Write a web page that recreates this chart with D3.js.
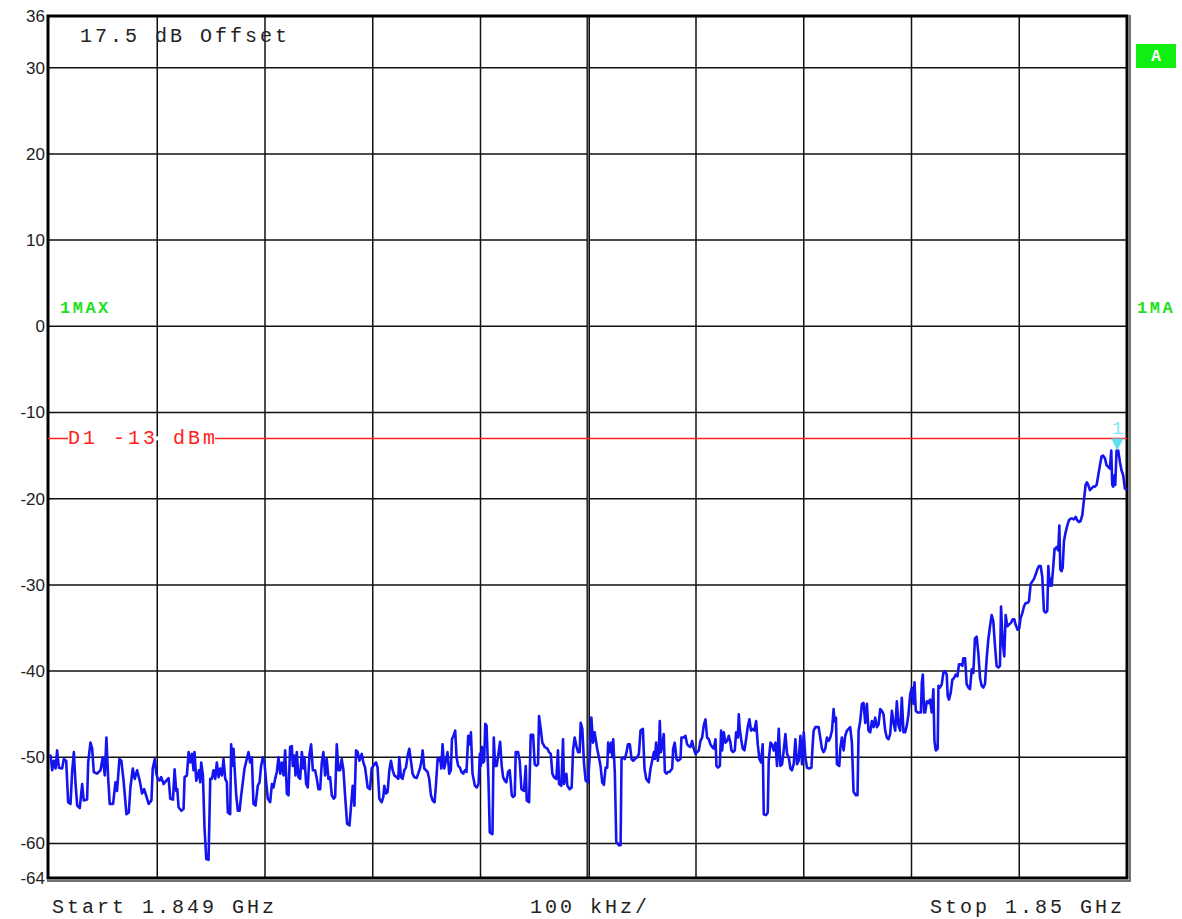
<!DOCTYPE html>
<html>
<head>
<meta charset="utf-8">
<script src="https://d3js.org/d3.v7.min.js"></script>
<style>
  body { margin: 0; background: #fff; }
  svg { display: block; }
</style>
</head>
<body>
<div id="chart"></div>
<script>
const WIDTH = 1182;
const HEIGHT = 919;
const MONO = "'Liberation Mono', 'Courier New', monospace";
const SANS = "'Liberation Sans', Arial, sans-serif";

// sweep points: offset from start (1.849 GHz) in kHz, level in dBm
const freqKHz = [
  0, 1, 2.5, 4, 5.6, 7.1, 8.7, 11.7, 13.3, 15.5,
  17.3, 19.5, 21, 22.6, 24.1, 25.7, 28.1, 30.3, 31.8, 34.9,
  35.9, 38, 39.6, 41.1, 44.2, 47.3, 49.4, 51.3, 52.8, 54.4,
  55.9, 59, 61.2, 62.7, 64.9, 66.7, 68.9, 71.4, 73.6, 75.1,
  77.3, 79.1, 81.3, 83.7, 85.9, 87.8, 89.6, 92.1, 94.6, 95.8,
  97.7,
  99.1, 100.6, 102.2, 103.7, 105.9, 108.4, 110.5, 112.1, 114.6, 116.1,
  117.6, 118.6, 119.8, 122.3, 124.4, 125.4, 127.5, 129.1, 130.6, 132.2,
  133.7, 134.6, 136.2, 137.7, 138.7, 139.9, 140.8, 142.4, 143.9, 145.5,
  147.6, 149.2, 150.7, 152.2, 153.8, 155.3, 156.9, 158.4, 160, 161.5,
  163.1, 164.6, 165.5, 167.7, 168.6, 169.6, 170.8, 172, 173.3, 174.8,
  176.4, 177.9, 179.4, 181, 183.1, 184.7, 186.2, 187.8, 189.3, 191.2,
  193.3, 194.9, 196.4, 198, 199.5, 201.1,
  202.6, 204.8, 206.4, 207.9, 209.4, 211, 212.5, 214.1, 215.6, 217.2,
  218.7, 220.3, 221.8, 223.3, 224.9, 225.8, 227.4, 228.3, 229.5, 231.1,
  232.6, 234.2, 235.7, 236.6, 238.2, 239.7, 241.3, 242.8, 244.4, 246.5,
  248.1, 249.6, 251.2, 252.7, 254.2, 255.8, 257.3, 258.9, 260.4, 262,
  263.8, 265.1, 266.6, 268.2, 269.7, 271.2, 272.8, 274.3, 276.2, 278.4,
  279.9, 281.4, 283, 284.5, 286.1, 287.6, 289.8, 291.3, 292.9, 295.3,
  297.5, 299, 301.5, 303.1,
  304.5, 306.1, 308.3, 309.8, 310.7, 312.3, 313.8, 315.4, 316.9, 318.5,
  320, 322.2, 323.7, 324.6, 326.2, 327.7, 329.3, 330.8, 332.4, 333.9,
  335.4, 337, 338.5, 340.7, 342.2, 343.8, 345.3, 346.3, 347.8, 349.4,
  350.9, 352.4, 354, 355.5, 357.4, 358.6, 360.2, 361.7, 362.6, 363.6,
  364.8, 366.3, 367.9, 369.4, 371, 372.5, 373.5, 375, 376.5, 377.8,
  379.3, 380.9, 382.4, 384, 385.5, 387, 388.6, 390.1, 391.1, 392.6,
  394.8, 396.6, 398.2, 399.4, 400.3, 401.3, 402.5, 403.4, 404.4, 405.6,
  407.4, 408.6, 411.1, 412.3, 413.6, 415.1, 416.6, 418.2, 419.7, 421,
  422.5, 424, 425.6, 427.1, 428.1, 429, 430.2, 431.8, 432.7, 434.9,
  436.4, 438, 440.4, 442, 442.9, 445.1, 446.6, 448.8, 450.3, 451.9,
  453.4, 454.3, 455.9, 457.4, 459.6, 462.1, 463.6, 465.2, 466.7, 468.2,
  470.4, 471.9, 472.9, 475, 476.6, 477.5, 479.7, 480.6, 482.8, 484.6,
  485.9, 487.4, 489, 490.5, 492, 493, 494.5, 496.1, 497.6, 499.8,
  501.3, 502.9, 504.4, 505.9,
  508.3, 509.9, 511.4, 513, 514.5, 516.1, 517.6, 518.5, 520.1, 521.3,
  522.3, 523.2, 524.7, 526, 528.4, 530, 530.9, 532.5, 534, 535.5,
  536.8, 538.6, 540.2, 541.7, 543.3, 545.4, 547, 548.5, 550.7, 552.2,
  553.8, 556.2, 557.8, 559.3, 560.9, 561.8, 563, 564.6, 565.5, 566.4,
  567.4, 568.6, 570.1, 571.1, 572.6, 573.9, 575.4, 577.9, 578.8, 580.3,
  581.9, 583.4, 585.6, 586.5, 588.7, 590.2, 591.8, 593.3, 594.9, 596.4,
  598, 599.5, 601.1, 602.6, 604.1, 605.7, 607.2, 608.8,
  610.3, 611.9, 613.4, 615, 616.5, 618.1, 619, 620.5, 622.1, 623.3,
  624.3, 625.8, 627.3, 628.9, 630.4, 632, 632.9, 634.4, 636, 637.2,
  638.8, 639.7, 640.6, 641.9, 643.4, 645, 646.5, 648, 649.6, 651.1,
  652.7, 654.2, 655.8, 657.3, 658.9, 660.4, 661.9, 662.9, 665, 666.6,
  667.5, 669.1, 670.6, 672.1, 673.7, 675.2, 676.8, 678.3, 679.9, 681.4,
  683, 684.5, 686.1, 687.6, 689.1, 690.7, 692.2, 693.8, 695.3, 696.9,
  698.4, 700, 701.5, 703, 705.2, 707.1, 708.3, 709.2, 710.8, 712.3,
  713.8, 715.3, 716.9, 718.4, 720, 721.5, 723.1, 724.6, 726.2, 727.7,
  728.6, 729.9, 730.8, 733, 733.9, 735.4, 737, 738.5, 740.1, 741.6,
  743.1, 744.7, 746.2, 748.4, 749.9, 750.9, 752.4, 754, 755.5, 757.1,
  758.6, 760.1, 761.7, 763.2, 764.8, 766.3, 767.9, 769.4, 771, 772.5,
  774, 775.6, 777.1, 778.7, 780.2, 781.8, 783.3, 784.9, 786.4, 787.9,
  789.5, 791, 792.6, 794.1, 795.7, 797.2, 798.8, 800.3, 801.9, 802.8,
  804, 805.6, 807.1, 808.7, 809.6, 810.5, 811.7, 812.7, 814.2, 815.8,
  817.2, 818.8, 820.3, 821.3, 822.5, 824.3, 825, 826.5, 828.1, 829.6,
  831.1, 832.7, 833.6, 834.8, 836.4, 837.9, 839.5, 841, 842.6, 844.1,
  845.7, 847.2, 848.1, 849.7, 851.2, 852.8, 854.3, 855.9, 857.4, 858.9,
  860.5, 862, 863.6, 865.1, 866.7, 868.2, 869.8, 871.3, 872.9, 874.4,
  875.9, 877.5, 879, 880.6, 882.1, 883.1, 884.6, 886.1, 887.4, 888.9,
  890.5, 892.3, 893.9, 895.4, 896.6, 898.5, 900, 901.3, 902.8, 904.4,
  905.9, 907.5, 909,
  910.6, 912.1, 913.7, 915.2, 916.8, 918.3, 919.9, 921.4, 922.9, 924.5,
  926, 927, 928.2, 929.1, 930.1, 931.6, 932.8, 933.8, 934.7, 936.2,
  937.2, 938.1, 939.3, 940.3, 941.5, 943, 944.6, 946.1, 947.7, 949.2,
  950.8, 952.3, 953.8, 955.4, 956.9, 958.5, 960, 961.6, 962.8, 964,
  965.6, 967.1, 968.7, 970.2, 971.8, 973.3, 974.9, 976.4, 977.9, 979.5,
  981, 982.6, 984.1, 985.4, 986.3, 987.2, 988.1, 989.1, 990.3, 991.8,
  993.4, 994.9, 996.5, 998, 1000
];

const levelDb = [
  -49.8, -49.8, -51.5, -50.4, -51.3, -49.2, -51.2, -51.3, -50.2, -50.4,
  -55.2, -55.4, -51.7, -49.4, -52.9, -55.6, -55.9, -53.1, -55, -54.9,
  -50.6, -48.3, -49, -51.7, -51.9, -51.5, -50, -52.1, -47.7, -52.3,
  -55.4, -55.4, -52.9, -53.9, -50.2, -50.4, -52.9, -56.6, -56.4, -53.5,
  -51.3, -52.5, -51.5, -52.7, -54.2, -53.7, -54.4, -55.4, -55, -51.3,
  -50.2,
  -51.9, -52.5, -52.7, -52.3, -53.1, -52.7, -52.4, -54.8, -54.9, -51.4,
  -53.9, -53.7, -55.8, -56.2, -56.0, -52.3, -52.1, -49.4, -50.6, -49.6,
  -51.5, -49.4, -52.7, -52.1, -51.5, -52.9, -50.6, -52.1, -58.3, -61.8,
  -61.9, -52.5, -52.5, -51.5, -52.5, -50.6, -52.3, -51.3, -52.1, -50.2,
  -52.5, -52.9, -56.4, -56.6, -48.5, -51.0, -49.0, -51.7, -54.4, -56.2,
  -56.2, -54.4, -52.9, -51.3, -50.2, -49.4, -50.6, -50.0, -55.4, -55.6,
  -53.3, -52.9, -51.0, -50.0, -50.6, -52.9,
  -54.8, -55.2, -53.1, -53.5, -52.5, -51.7, -50, -51.9, -50.6, -52.1,
  -49.2, -54.2, -54.4, -48.8, -48.7, -51, -49.8, -52.1, -49.4, -52.3,
  -52.5, -49.4, -51.3, -50, -53.1, -53.5, -49.6, -48.5, -51.5, -51.5,
  -52.5, -53.7, -53.7, -50.6, -49.4, -52.1, -50.2, -52.5, -52.3, -54.4,
  -54.8, -54.6, -48.5, -51.5, -51.5, -50.2, -51.5, -54.4, -57.7, -57.9,
  -55.6, -53.3, -55.6, -49.2, -49.4, -50.4, -49.6, -50.6, -51.2, -53.5,
  -53.7, -51.3, -50.8, -50.6,
  -51.2, -54.8, -55.2, -54.6, -53.3, -54.2, -54.0, -51.5, -50.4, -51.5,
  -52.1, -52.3, -52.5, -50, -52.3, -52.5, -51.5, -51.2, -49.8, -49,
  -50.4, -51.9, -52.3, -52.4, -51.9, -51.3, -50.4, -49.2, -51.3, -51.5,
  -51.7, -52.5, -54.4, -55, -55.2, -53.3, -50.2, -50.4, -50, -51.3,
  -48.5, -51.3, -50.4, -49.4, -51.9, -51.5, -47.9, -47.5, -46.9, -50,
  -51, -51.2, -51.7, -51.9, -51.5, -51.7, -47.5, -48.5, -47.1, -51.9,
  -53.3, -53.5, -53.1, -49.6, -51, -48.8, -50.6, -50.4, -46.1, -46.3,
  -52.7, -58.7, -58.9, -47.7, -51, -51, -49.6, -48.2, -51, -52.3,
  -52.7, -52.9, -51.7, -51.5, -52.9, -54.4, -54.6, -54.4, -49.4, -49.4,
  -50.4, -53.7, -53.9, -51, -55, -55.2, -47.4, -47.4, -50.8, -51,
  -50.8, -45.2, -46.7, -48.3, -48.8, -49, -49.4, -49.6, -51.9, -52.3,
  -52.5, -49.2, -53.1, -53.3, -47.9, -53.1, -51.9, -53.3, -53.7, -53.5,
  -49.2, -47.7, -48.7, -49.4, -49.4, -46, -46.7, -50.8, -52.7, -52.9,
  -50, -45.4, -48.3, -47.1,
  -49, -50, -51, -52.9, -53.2, -51.2, -51.2, -48.3, -49.4, -48.3,
  -50, -47.9, -51.9, -59.8, -60.2, -60.2, -50.2, -50, -50.2, -49.4,
  -48.5, -48.5, -50.2, -50.4, -50.2, -50, -49.6, -46.9, -46.7, -51.3,
  -52.5, -52.9, -51.3, -50.4, -49.4, -50.2, -48.3, -50.4, -49.4, -45.8,
  -49.4, -48.7, -47.3, -51.7, -51.9, -51.7, -51.7, -51.3, -49, -48.3,
  -50.2, -50.4, -50.2, -47.7, -47.7, -47.5, -48.5, -48.7, -48.8, -48.1,
  -49, -49.6, -49.4, -49.2, -48.1, -47.7, -46.3, -45.6,
  -47.7, -47.9, -48.5, -48.8, -49, -47.9, -51, -51.2, -51, -46.9,
  -49.2, -47.1, -48.3, -48.1, -47.5, -48.3, -49.2, -49.4, -49.2, -47.1,
  -47.7, -45, -46.7, -47.9, -49, -49.2, -47.9, -46.5, -45.6, -46.9,
  -46.7, -46.9, -45.8, -48.5, -50.2, -50.6, -48.5, -56.6, -56.7, -56.4,
  -50.4, -48.3, -48.5, -49.2, -48.3, -51, -46.7, -51, -50.8, -49.2,
  -47.3, -49.6, -50, -51.3, -51.5, -50.8, -47.9, -50.8, -50.4, -47.5,
  -50.8, -47.1, -50, -51.2, -51.3, -51.2, -48.5, -46.9, -46.5, -46.5,
  -46.5, -47.7, -49, -49.4, -49, -47.7, -48.1, -47.7, -46.9, -44.4,
  -45.8, -45.4, -50.8, -51, -49, -47.7, -49.2, -47.5, -46.9, -46.7,
  -46.5, -48.3, -54, -54.4, -54.4, -46.9, -45.8, -43.8, -43.7, -46,
  -43.8, -46.9, -47.1, -45.8, -46.5, -45.4, -46.5, -46.2, -44.4, -44.6,
  -45, -46.9, -47.7, -47.9, -47.3, -44.6, -46, -46.9, -43.5, -46.3,
  -46.9, -43.1, -47.1, -47.1, -46.3, -45, -42.7, -41.9, -43.8, -41.3,
  -44.6, -44.8, -44.8, -44.8, -41.3, -40.4, -44.8, -44.8, -43.5, -43.7,
  -43.3, -44.8, -42.1, -48.1, -49.2, -49, -41.7, -41.9, -41.5, -40.2,
  -40, -40.4, -42.9, -43.3, -42.5, -41, -40.8, -40.4, -40.6, -39.2,
  -39.2, -39.4, -38.5, -38.5, -41.5, -41.9, -42.1, -39.8, -40.2, -36.2,
  -36, -37.9, -40.8, -41.7, -41.9, -41.5, -38.5, -36.3, -34.8, -33.5,
  -34.2, -37.1, -39.4, -39.6, -39.4, -32.5, -36.7, -38.3, -33.5, -34.8,
  -34.6, -34.4, -34, -34, -34.6, -35.2, -35, -33.8, -33.3, -32.5,
  -32.1, -32.1, -31.9,
  -29.9, -29.6, -29.3, -28.8, -28.2, -27.8, -27.8, -29.1, -33, -33.2,
  -33, -27.8, -30.1, -29.3, -30.1, -27.8, -25.8, -25.8, -25.6, -26,
  -23.1, -28.2, -28.4, -28, -24.9, -23.9, -23.1, -22.5, -22.3, -22.3,
  -22.4, -22.1, -22.5, -22.7, -22.6, -21.9, -20.2, -18.4, -18.1, -18.4,
  -19, -18.8, -18.6, -18.6, -18.4, -17.3, -16.1, -15.1, -15, -15.3,
  -16.1, -16.3, -16.5, -14.4, -18.4, -18.6, -17.3, -18.4, -14.4, -14.4,
  -15.7, -16.7, -17.3, -18.8, -19
];

const yTicks = [36, 30, 20, 10, 0, -10, -20, -30, -40, -50, -60, -64];
const gridLevels = [30, 20, 10, 0, -10, -20, -30, -40, -50, -60];
const gridFreqs = [100, 200, 300, 400, 500, 600, 700, 800, 900];
const limitDb = -13;
const limitLabel = "D1 -13 dBm";
const markerKHz = 991;
const markerDb = -14.4;

// plot frame in px
const X0 = 49.5, X1 = 1127, Y0 = 16, Y1 = 878;

var svg = d3.select("#chart").append("svg")
    .attr("width", WIDTH)
    .attr("height", HEIGHT);

var x = d3.scaleLinear().domain([0, 1000]).range([X0, X1]);
var y = d3.scaleLinear().domain([-64, 36]).range([Y1, Y0]);

// grid
svg.append("g").selectAll("line")
    .data(gridLevels)
    .enter().append("line")
    .attr("x1", 48).attr("x2", X1)
    .attr("y1", d => y(d)).attr("y2", d => y(d))
    .attr("stroke", "#111")
    .attr("stroke-width", 1.5);

svg.append("g").selectAll("line")
    .data(gridFreqs)
    .enter().append("line")
    .attr("x1", d => x(d)).attr("x2", d => x(d))
    .attr("y1", Y0).attr("y2", Y1)
    .attr("stroke", "#111")
    .attr("stroke-width", d => d === 500 ? 3.5 : 1.5);

svg.append("line")
    .attr("x1", x(500)).attr("x2", x(500))
    .attr("y1", Y0).attr("y2", Y1)
    .attr("stroke", "#888")
    .attr("stroke-width", 1);

// frame
svg.append("rect")
    .attr("x", 48).attr("y", Y0)
    .attr("width", X1 - 48).attr("height", Y1 - Y0)
    .attr("fill", "none")
    .attr("stroke", "#000")
    .attr("stroke-width", 3);

svg.append("path")
    .attr("d", `M47,${Y1 + 3}H${X1 + 3}V${Y0 - 1}`)
    .attr("fill", "none")
    .attr("stroke", "#444")
    .attr("stroke-width", 1.5);

// y axis labels
var yAxis = svg.append("g")
    .attr("transform", "translate(48,0)")
    .call(d3.axisLeft(y).tickValues(yTicks).tickSize(0).tickPadding(3).tickFormat(d => String(d)));
yAxis.select(".domain").remove();
yAxis.selectAll("text")
    .attr("font-family", SANS)
    .attr("font-size", "17px")
    .attr("fill", "#222");

// limit line with its label cut into it
svg.append("line")
    .attr("x1", 48).attr("x2", X1)
    .attr("y1", y(limitDb)).attr("y2", y(limitDb))
    .attr("stroke", "#ff2020")
    .attr("stroke-width", 1.5);

var limitGap = svg.append("rect")
    .attr("fill", "#fff");

var limitText = svg.append("text")
    .attr("x", 68)
    .attr("y", y(limitDb) + 6)
    .attr("font-family", MONO)
    .attr("font-size", "20px")
    .attr("letter-spacing", "3px")
    .attr("fill", "#ff2020")
    .attr("xml:space", "preserve")
    .text(limitLabel);
var bb = limitText.node().getBBox();
limitGap
    .attr("x", bb.x).attr("y", y(limitDb) - 2)
    .attr("width", bb.width - 3).attr("height", 4);

// trace
var pts = d3.range(Math.min(freqKHz.length, levelDb.length)).map(i => [freqKHz[i], levelDb[i]]);
var line = d3.line()
    .x(d => x(d[0]))
    .y(d => y(d[1]));

svg.append("defs").append("clipPath").attr("id", "plot")
    .append("rect").attr("x", 48).attr("y", Y0).attr("width", X1 - 48).attr("height", Y1 - Y0);

svg.append("path")
    .datum(pts)
    .attr("clip-path", "url(#plot)")
    .attr("fill", "none")
    .attr("stroke", "#1414f0")
    .attr("stroke-width", 2.6)
    .attr("stroke-linejoin", "round")
    .attr("d", line);

// marker 1
var mx = x(markerKHz), my = y(markerDb);
svg.append("path")
    .attr("d", `M${mx - 6},${my - 12}L${mx + 6},${my - 12}L${mx},${my}Z`)
    .attr("fill", "#5fe0ea");
svg.append("text")
    .attr("x", mx)
    .attr("y", my - 16)
    .attr("text-anchor", "middle")
    .attr("font-family", MONO)
    .attr("font-size", "18px")
    .attr("fill", "#7fe8f0")
    .text("1");

// annotations
const monoText = (txt, tx, ty) => {
    return svg.append("text")
        .attr("x", tx).attr("y", ty)
        .attr("font-family", MONO)
        .attr("font-size", "20px")
        .attr("letter-spacing", "3px")
        .attr("fill", "#222")
        .attr("xml:space", "preserve")
        .text(txt);
};

monoText("17.5 dB Offset", 80, 42);
monoText("Start 1.849 GHz", 52, 913);
monoText("100 kHz/", 530, 913);
monoText("Stop 1.85 GHz", 930, 913);

const greenLabel = (txt, tx) => {
    svg.append("text")
        .attr("x", tx).attr("y", 313)
        .attr("font-family", MONO)
        .attr("font-size", "17px")
        .attr("letter-spacing", "2.5px")
        .attr("font-weight", "bold")
        .attr("fill", "#22e022")
        .text(txt);
};
greenLabel("1MAX", 60);
greenLabel("1MA", 1137);

svg.append("rect")
    .attr("x", 1136).attr("y", 44)
    .attr("width", 40).attr("height", 24)
    .attr("fill", "#11ee11");
svg.append("text")
    .attr("x", 1156).attr("y", 61)
    .attr("text-anchor", "middle")
    .attr("font-family", MONO)
    .attr("font-size", "16px")
    .attr("font-weight", "bold")
    .attr("fill", "#fff")
    .text("A");
</script>
</body>
</html>
